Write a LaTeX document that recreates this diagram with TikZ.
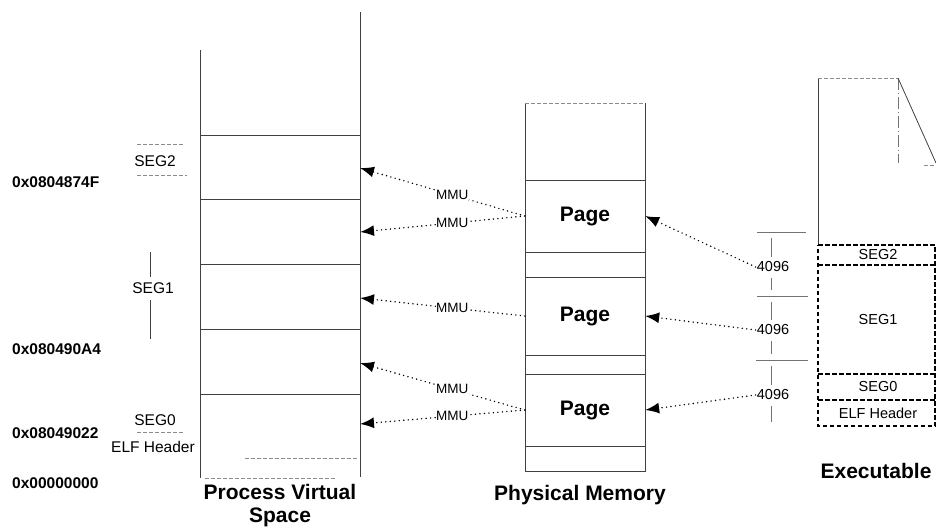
\documentclass[tikz,border=0pt]{standalone}
\usepackage{fontspec}
\setmainfont{Liberation Sans}
\usetikzlibrary{arrows.meta}
\tikzset{
  col/.style={draw=black!75, line width=0.8pt},
  faint/.style={draw=black!45, line width=0.6pt, dash pattern=on 4pt off 2pt},
  addr/.style={font=\fontsize{15.5}{17}\selectfont\bfseries, anchor=west, inner sep=0pt},
  seglbl/.style={font=\fontsize{15.5}{17}\selectfont, inner sep=0pt},
  exlbl/.style={font=\fontsize{14.5}{16}\selectfont, inner sep=0pt},
  pagecell/.style={font=\fontsize{21}{23}\selectfont\bfseries, minimum width=120pt, minimum height=72pt, inner sep=0pt},
  title/.style={font=\fontsize{21}{23}\selectfont\bfseries, align=center, inner sep=0pt},
  mmulbl/.style={font=\fontsize{13.5}{15}\selectfont, fill=white, inner sep=0.5pt},
  sizelbl/.style={font=\fontsize{14.5}{16}\selectfont, inner sep=1pt},
  maparrow/.style={draw=black, line width=1.6pt, line cap=round, dash pattern=on 0pt off 4.5pt,
    -{Latex[length=14pt,width=11pt]}},
  exbox/.style={draw=black, line width=1.4pt, dash pattern=on 4.5pt off 2.5pt},
}
\begin{document}
\begin{tikzpicture}[x=1pt,y=-1pt]
\useasboundingbox (0,0) rectangle (936,530);

% ---------- Process Virtual Space ----------
\draw[col] (200,50) -- (200,478);
\draw[col] (360,12) -- (360,477);
\foreach \yy in {135,199,264,329,394}{\draw[col] (200,\yy) -- (360,\yy);}
\draw[faint] (245,458) -- (358,458);
\draw[faint] (205,478) -- (335,478);

\node[addr] (a1) at (12,182) {0x0804874F};
\node[addr] (a2) at (12,349) {0x080490A4};
\node[addr] (a3) at (12,433) {0x08049022};
\node[addr] (a4) at (12,483) {0x00000000};

\node[seglbl] (s2) at (155,161) {SEG2};
\node[seglbl] (s1) at (153,288) {SEG1};
\node[seglbl] (s0) at (155,420) {SEG0};
\node[seglbl] (eh) at (153,447) {ELF Header};
\draw[faint] (137,144) -- (185,144);
\draw[faint] (137,175) -- (187,175);
\draw[faint] (137,432) -- (185,432);
\draw[col] (150,252) -- (150,277);
\draw[col] (150,300) -- (150,339);

\node[title] (tpvs) at (280,506) {Process Virtual\\Space};

% ---------- Physical Memory ----------
\draw[col] (525,103) -- (525,471) -- (645,471) -- (645,103);
\draw[faint] (525,103) -- (645,103);
\foreach \yy in {180,252,277,355,374,446}{\draw[col] (525,\yy) -- (645,\yy);}
\node[pagecell] (p1) at (585,216) {Page};
\node[pagecell] (p2) at (585,316) {Page};
\node[pagecell] (p3) at (585,410) {Page};
\node[title] (tpm) at (580,495) {Physical Memory};

% arrow targets on the virtual space
\coordinate (v1) at (360,168);
\coordinate (v2) at (360,232);
\coordinate (v3) at (360,298);
\coordinate (v4) at (360,363);
\coordinate (v5) at (360,424);

\draw[maparrow] (p1.west) -- node[mmulbl, pos=0.44] {MMU} (v1);
\draw[maparrow] (p1.west) -- node[mmulbl, pos=0.44] {MMU} (v2);
\draw[maparrow] (p2.west) -- node[mmulbl, pos=0.44] {MMU} (v3);
\draw[maparrow] (p3.west) -- node[mmulbl, pos=0.44] {MMU} (v4);
\draw[maparrow] (p3.west) -- node[mmulbl, pos=0.44] {MMU} (v5);

% ---------- page sizes ----------
\node[sizelbl] (k1) at (773,267) {4096};
\node[sizelbl] (k2) at (773,330) {4096};
\node[sizelbl] (k3) at (773,395) {4096};
\draw[maparrow] (k1.west) -- (p1.east);
\draw[maparrow] (k2.west) -- (p2.east);
\draw[maparrow] (k3.west) -- (p3.east);

\draw[col, draw=black!55] (757,232) -- (806,232);
\draw[col, draw=black!55] (757,296) -- (808,296);
\draw[col, draw=black!55] (756,360) -- (808,360);
\draw[col, draw=black!55] (771,238) -- (771,257);
\draw[col, draw=black!55] (771,278) -- (771,290);
\draw[col, draw=black!55] (771,302) -- (771,320);
\draw[col, draw=black!55] (771,341) -- (771,354);
\draw[col, draw=black!55] (771,366) -- (771,385);
\draw[col, draw=black!55] (771,406) -- (771,422);

% ---------- Executable ----------
\draw[col] (818,78) -- (818,245);
\draw[faint] (818,78) -- (898,78);
\draw[col, draw=black!55, dash pattern=on 12pt off 3pt on 1pt off 3pt] (898,78) -- (898,163);
\draw[col] (898,78) -- (936,163);
\draw[faint] (924,165) -- (936,165);

\draw[exbox] (818,245) -- (935,245) -- (935,426) -- (818,426) -- cycle;
\draw[exbox] (818,265) -- (935,265);
\draw[exbox] (818,374) -- (935,374);
\draw[exbox] (818,400) -- (935,400);
\node[exlbl] (x2) at (878,255) {SEG2};
\node[exlbl] (x1) at (878,320) {SEG1};
\node[exlbl] (x0) at (878,387) {SEG0};
\node[exlbl] (xe) at (878,413) {ELF Header};
\node[title] (tex) at (876,471) {Executable};
\end{tikzpicture}
\end{document}
